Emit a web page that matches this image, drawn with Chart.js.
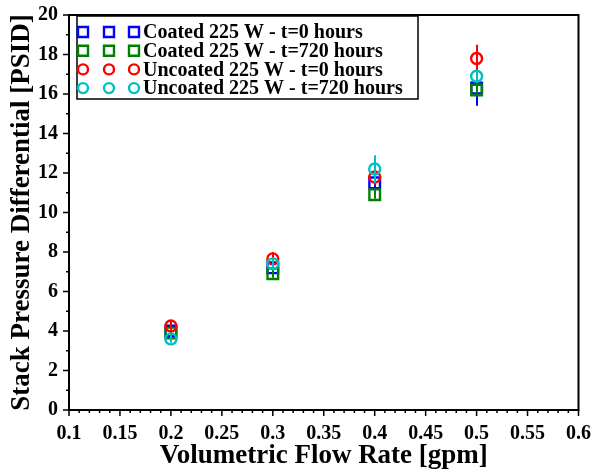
<!DOCTYPE html>
<html>
<head>
<meta charset="utf-8">
<script src="https://cdn.jsdelivr.net/npm/chart.js@4.4.0/dist/chart.umd.min.js"></script>
<style>
  html, body { margin: 0; padding: 0; background: #fff; }
</style>
</head>
<body>
<canvas id="chart" width="595" height="472"></canvas>
<script>
// values
const flowRates = [0.2, 0.3, 0.4, 0.5];
const coated0 = [4.0, 7.2, 11.5, 16.3];
const coated0Err = [0.2, 0.2, 0.4, 0.9];
const coated720 = [3.9, 6.9, 10.9, 16.2];
const coated720Err = [0.2, 0.2, 0.2, 0.2];
const uncoated0 = [4.25, 7.65, 11.8, 17.8];
const uncoated0Err = [0.3, 0.35, 0.4, 0.7];
const uncoated720 = [3.6, 7.4, 12.2, 16.9];
const uncoated720Err = [0.2, 0.3, 0.7, 0.3];

const seriesNames = [
  'Coated 225 W - t=0 hours',
  'Coated 225 W - t=720 hours',
  'Uncoated 225 W - t=0 hours',
  'Uncoated 225 W - t=720 hours'
];
const seriesColors = ['#0000ff', '#008000', '#ff0000', '#00c0c0'];
const seriesShapes = ['rect', 'rect', 'circle', 'circle'];
const seriesValues = [coated0, coated720, uncoated0, uncoated720];
const seriesErrors = [coated0Err, coated720Err, uncoated0Err, uncoated720Err];

const xTicks = [0.1, 0.15, 0.2, 0.25, 0.3, 0.35, 0.4, 0.45, 0.5, 0.55, 0.6];
const yTicks = [0, 2, 4, 6, 8, 10, 12, 14, 16, 18, 20];

const serif = "'Liberation Serif', 'DejaVu Serif', serif";

function markerRadius(shape) {
  return shape === 'rect' ? 7.5 : 5.5;
}

const datasets = seriesValues.map((vals, i) => ({
  label: seriesNames[i],
  data: flowRates.map((x, j) => ({ x: x, y: vals[j] })),
  errors: seriesErrors[i],
  order: seriesValues.length - i, // later series on top
  showLine: false,
  pointStyle: seriesShapes[i],
  pointRadius: markerRadius(seriesShapes[i]),
  pointHoverRadius: markerRadius(seriesShapes[i]),
  pointBorderWidth: 2.4,
  borderColor: seriesColors[i],
  backgroundColor: 'rgba(255,255,255,0)'
}));

// error bars, frame, minor ticks and the three-marker legend
const extras = {
  id: 'extras',
  afterDatasetDraw(chart, args) {
    const ds = chart.data.datasets[args.index];
    const xs = chart.scales.x, ys = chart.scales.y;
    const ctx = chart.ctx;
    ctx.save();
    ctx.strokeStyle = ds.borderColor;
    ctx.lineWidth = 2;
    ds.data.forEach((p, j) => {
      const e = ds.errors[j];
      const px = Math.round(xs.getPixelForValue(p.x));
      ctx.beginPath();
      ctx.moveTo(px, ys.getPixelForValue(p.y - e));
      ctx.lineTo(px, ys.getPixelForValue(p.y + e));
      ctx.stroke();
    });
    ctx.restore();
  },
  afterDraw(chart) {
    const ctx = chart.ctx;
    const a = chart.chartArea;
    const xs = chart.scales.x, ys = chart.scales.y;
    ctx.save();
    ctx.strokeStyle = '#000';
    ctx.lineWidth = 2;
    ctx.strokeRect(a.left, a.top, a.right - a.left, a.bottom - a.top);

    ctx.lineWidth = 1.5;
    ctx.beginPath();
    for (let k = 0; k <= 50; k++) {
      const v = 0.1 + k * 0.01;
      const px = xs.getPixelForValue(v);
      const len = k % 5 === 0 ? 6 : 3;
      ctx.moveTo(px, a.bottom);
      ctx.lineTo(px, a.bottom + len);
    }
    for (let k = 0; k <= 20; k++) {
      const py = ys.getPixelForValue(k);
      const len = k % 2 === 0 ? 6 : 3;
      ctx.moveTo(a.left, py);
      ctx.lineTo(a.left - len, py);
    }
    ctx.stroke();

    // legend box
    const lx = 77, ly = 16, lw = 341, lh = 83;
    ctx.fillStyle = '#fff';
    ctx.fillRect(lx, ly, lw, lh);
    ctx.strokeStyle = '#000';
    ctx.lineWidth = 1.5;
    ctx.strokeRect(lx, ly, lw, lh);
    ctx.font = 'bold 20px ' + serif;
    ctx.textBaseline = 'middle';
    ctx.textAlign = 'left';
    seriesNames.forEach((name, i) => {
      const cy = 32 + i * 18.7;
      [83, 109, 134].forEach(mx => {
        ctx.strokeStyle = seriesColors[i];
        ctx.lineWidth = 2.4;
        ctx.beginPath();
        if (seriesShapes[i] === 'rect') {
          ctx.rect(mx - 5, cy - 5, 10, 10);
        } else {
          ctx.arc(mx, cy, 5, 0, Math.PI * 2);
        }
        ctx.stroke();
      });
      ctx.fillStyle = '#000';
      ctx.fillText(name, 143, cy + 1);
    });
    ctx.restore();
  }
};

new Chart(document.getElementById('chart'), {
  type: 'scatter',
  data: { datasets: datasets },
  options: {
    responsive: false,
    animation: false,
    layout: { padding: { top: 9, right: 14, left: 0, bottom: 0 } },
    plugins: {
      legend: { display: false },
      tooltip: { enabled: false }
    },
    scales: {
      x: {
        type: 'linear',
        min: 0.1,
        max: 0.6,
        afterBuildTicks: (scale) => { scale.ticks = xTicks.map(v => ({ value: v })); },
        afterFit: (scale) => { scale.height = 62; },
        grid: { display: false },
        border: { display: false },
        ticks: {
          autoSkip: false,
          maxRotation: 0,
          padding: 4,
          color: '#000',
          font: { family: serif, size: 20, weight: 'bold' },
          callback: (v) => String(Math.round(v * 100) / 100)
        },
        title: {
          display: true,
          text: 'Volumetric Flow Rate [gpm]',
          color: '#000',
          padding: { top: 0, bottom: 0 },
          font: { family: serif, size: 27, weight: 'bold' }
        }
      },
      y: {
        min: 0,
        max: 20,
        afterBuildTicks: (scale) => { scale.ticks = yTicks.map(v => ({ value: v })); },
        afterFit: (scale) => { scale.width = 69; },
        grid: { display: false },
        border: { display: false },
        ticks: {
          padding: 3,
          color: '#000',
          font: { family: serif, size: 20, weight: 'bold' },
          callback: (v) => String(v)
        },
        title: {
          display: true,
          text: 'Stack Pressure Differential [PSID]',
          color: '#000',
          padding: { top: 6, bottom: 0 },
          font: { family: serif, size: 27, weight: 'bold' }
        }
      }
    }
  },
  plugins: [extras]
});
</script>
</body>
</html>
